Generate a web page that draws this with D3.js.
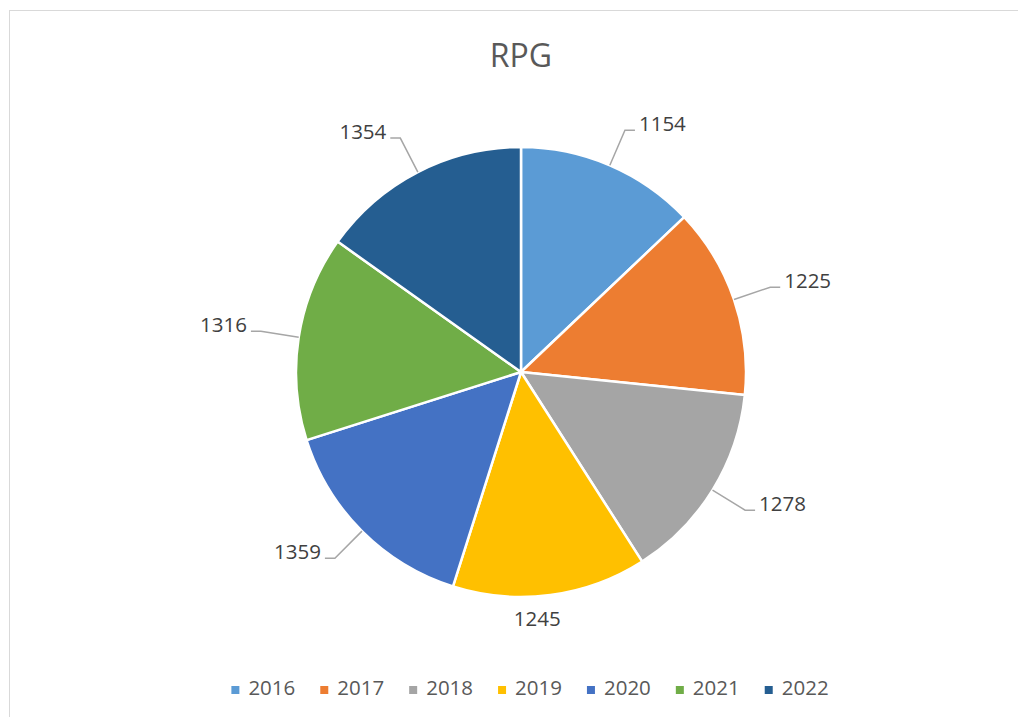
<!DOCTYPE html>
<html>
<head>
<meta charset="utf-8">
<script src="https://d3js.org/d3.v7.min.js"></script>
<style>
    body { margin: 0; background: #fff; }
    svg { display: block; font-family: "Open Sans", "Noto Sans", sans-serif; }
</style>
</head>
<body>
<svg width="1018" height="717"></svg>
<script>
// chart data
var years = ["2016", "2017", "2018", "2019", "2020", "2021", "2022"];
var values = [1154, 1225, 1278, 1245, 1359, 1316, 1354];
var colors = ["#5B9BD5", "#ED7D31", "#A5A5A5", "#FFC000", "#4472C4", "#70AD47", "#255E91"];
var title = "RPG";

var width = 1018;
var height = 717;
var svg = d3.select("svg");

var cx = 521, cy = 372, radius = 225;

// chart area border (runs off the right and bottom edge)
svg.append("rect")
    .attr("x", 9.5)
    .attr("y", 10.5)
    .attr("width", 1040)
    .attr("height", 740)
    .attr("fill", "#fff")
    .attr("stroke", "#d9d9d9")
    .attr("stroke-width", 1);

svg.append("text")
    .attr("x", cx)
    .attr("y", 67)
    .attr("text-anchor", "middle")
    .attr("fill", "#595959")
    .style("font-size", "32px")
    .text(title);

var rows = years.map(function (y, i) {
    return { year: y, value: values[i], color: colors[i] };
});

var color = d3.scaleOrdinal().domain(years).range(colors);

var pie = d3.pie().sort(null).value(d => d.value);
var arc = d3.arc().innerRadius(0).outerRadius(radius);
var arcs = pie(rows);

var g = svg.append("g").attr("transform", "translate(" + cx + "," + cy + ")");

g.selectAll("path")
    .data(arcs)
    .enter()
    .append("path")
    .attr("d", arc)
    .attr("fill", d => color(d.data.year))
    .attr("stroke", "#fff")
    .attr("stroke-width", 2.5)
    .attr("stroke-linejoin", "round");

/******************************************
   Data labels with leader lines
******************************************/
function pt(angle, r) {
    return [Math.sin(angle) * r, -Math.cos(angle) * r];
}

arcs.forEach(function (d) {
    var mid = (d.startAngle + d.endAngle) / 2;
    var s = Math.sin(mid);
    if (Math.abs(s) < 0.3) {
        // close to top / bottom: centred label, no leader line
        var p = pt(mid, radius + 24);
        g.append("text")
            .attr("x", p[0] * 0.5)
            .attr("y", p[1])
            .attr("dy", "0.35em")
            .attr("text-anchor", "middle")
            .attr("fill", "#404040")
            .style("font-size", "20.5px")
            .text(d.data.value);
        return;
    }
    var p0 = pt(mid, radius);
    var p1 = pt(mid, radius * 1.17);
    var dir = s > 0 ? 1 : -1;
    var p2 = [p1[0] + dir * 10, p1[1]];

    g.append("polyline")
        .attr("points", [p0, p1, p2].map(p => p.join(",")).join(" "))
        .attr("fill", "none")
        .attr("stroke", "#a6a6a6")
        .attr("stroke-width", 1.5);

    g.append("text")
        .attr("x", p2[0] + dir * 4)
        .attr("y", p2[1] + 1)
        .attr("text-anchor", dir > 0 ? "start" : "end")
        .attr("fill", "#404040")
        .style("font-size", "20.5px")
        .text(d.data.value);
});

/******************************************
   Legend
******************************************/
var legend = svg.append("g");
var lx = 0;
rows.forEach(function (d) {
    var item = legend.append("g").attr("transform", "translate(" + lx + ",0)");
    item.append("rect")
        .attr("x", 0)
        .attr("y", -9)
        .attr("width", 8)
        .attr("height", 8)
        .attr("fill", d.color);
    var t = item.append("text")
        .attr("x", 17)
        .attr("y", 0)
        .attr("fill", "#595959")
        .style("font-size", "20.5px")
        .text(d.year);
    lx += 17 + t.node().getComputedTextLength() + 25;
});
var legendWidth = lx - 25;
legend.attr("transform", "translate(" + (530 - legendWidth / 2) + ",695)");
</script>
</body>
</html>
